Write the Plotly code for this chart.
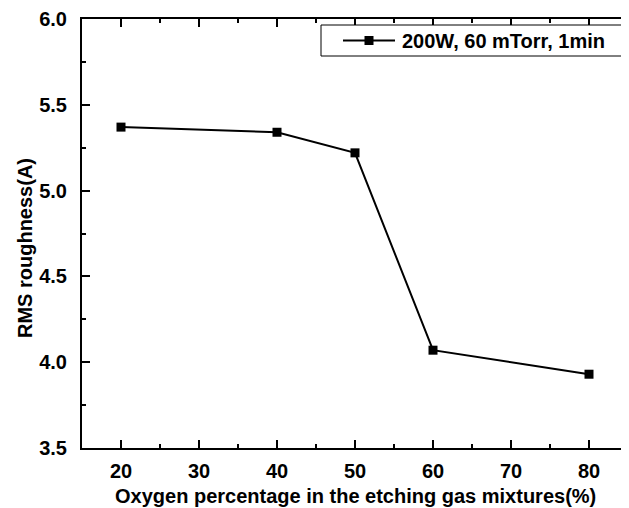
import plotly.graph_objects as go

# Data
oxygen_pct = [20, 40, 50, 60, 80]
rms_roughness = [5.37, 5.34, 5.22, 4.07, 3.93]
series_name = "200W, 60 mTorr, 1min"
x_title = "Oxygen percentage in the etching gas mixtures(%)"
y_title = "RMS roughness(A)"

# The page body has an 8px default margin; size the figure to fit the window.
OFF = 8
W, H = 629 - OFF, 508 - OFF
ML, MR, MT, MB = 82 - OFF, 1, 19 - OFF, 60
PW = W - ML - MR
PH = H - MT - MB

def px_x(px):  # window pixel -> paper
    return (px - OFF - ML) / PW

def px_y(py):
    return (H - MB - (py - OFF)) / PH

FONT = "Liberation Sans, Arial, sans-serif"
TXT = dict(family=FONT, size=20, color="black", weight="bold")

fig = go.Figure()
fig.add_trace(go.Scatter(
    x=oxygen_pct, y=rms_roughness, mode="lines+markers", name=series_name,
    line=dict(color="black", width=2),
    marker=dict(symbol="square", size=9, color="black"),
    showlegend=False,
))

axis_common = dict(
    showline=True, linecolor="black", linewidth=2,
    ticks="inside", ticklen=8, tickwidth=2, tickcolor="black",
    showgrid=False, zeroline=False, automargin=False,
    tickfont=TXT,
)

fig.update_xaxes(
    range=[15, 85], dtick=10, tick0=0, mirror="ticks", ticklabelstandoff=4,
    minor=dict(ticks="inside", ticklen=4, tickwidth=2, tickcolor="black", dtick=5, tick0=0, showgrid=False),
    **axis_common,
)
fig.update_yaxes(
    range=[3.5, 6.0], dtick=0.5, tick0=0, tickformat=".1f", mirror=True, ticklabelstandoff=9,
    minor=dict(ticks="inside", ticklen=4, tickwidth=2, tickcolor="black", dtick=0.25, tick0=0, showgrid=False),
    **axis_common,
)

# Manual legend
shapes = [
    dict(type="rect", xref="paper", yref="paper",
         x0=px_x(321), x1=px_x(626), y0=px_y(56), y1=px_y(25),
         line=dict(color="black", width=1), fillcolor="white"),
    dict(type="line", xref="paper", yref="paper",
         x0=px_x(343), x1=px_x(395), y0=px_y(40.5), y1=px_y(40.5),
         line=dict(color="black", width=2)),
    dict(type="rect", xref="paper", yref="paper",
         x0=px_x(364.5), x1=px_x(373.5), y0=px_y(45), y1=px_y(36),
         line=dict(color="black", width=0), fillcolor="black"),
]
annotations = [
    dict(text=series_name, xref="paper", yref="paper", x=px_x(400), y=px_y(40.5),
         xanchor="left", yanchor="middle", showarrow=False, font=TXT),
    dict(text=x_title, xref="paper", yref="paper", x=px_x(355.5), y=px_y(496),
         xanchor="center", yanchor="middle", showarrow=False, font=TXT),
    dict(text=y_title, xref="paper", yref="paper", x=px_x(24.5), y=px_y(248.5),
         xanchor="center", yanchor="middle", showarrow=False, textangle=-90, font=TXT),
]

fig.update_layout(
    width=W, height=H,
    margin=dict(l=ML, r=MR, t=MT, b=MB),
    paper_bgcolor="white", plot_bgcolor="white",
    shapes=shapes, annotations=annotations,
    font=dict(family=FONT, color="black"),
)

fig.write_html("out.html")
